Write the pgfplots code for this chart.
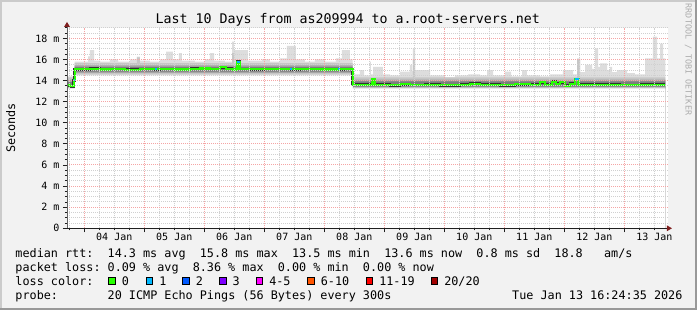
\documentclass[border=0pt]{standalone}
\usepackage{fontspec}
\setmainfont{DejaVu Sans Mono}
\usepackage{pgfplots}
\usepackage{pgfplotstable}
\pgfplotsset{compat=1.18}
\usetikzlibrary{arrows.meta}
\definecolor{bgc}{HTML}{F2F2F2}
\definecolor{shadeA}{HTML}{CBCBCB}
\definecolor{shadeB}{HTML}{999999}
\definecolor{mgrid}{HTML}{F5A5A5}
\definecolor{ngrid}{HTML}{D0D0D0}
\definecolor{arrowc}{HTML}{7F1F1F}
\definecolor{axisc}{HTML}{1F1F1F}
\definecolor{smA}{HTML}{DDDDDD}
\definecolor{smB}{HTML}{C6C6C6}
\definecolor{smC}{HTML}{A6A6A6}
\definecolor{smD}{HTML}{7C7C7C}
\definecolor{medc}{HTML}{333333}
\definecolor{l0}{HTML}{26FF00}
\definecolor{l1}{HTML}{00B8FF}
\definecolor{l2}{HTML}{0059FF}
\definecolor{l3}{HTML}{7E00FF}
\definecolor{l4}{HTML}{FF00FF}
\definecolor{l6}{HTML}{FF5500}
\definecolor{l11}{HTML}{FF0000}
\definecolor{l20}{HTML}{A10000}
\newcommand\fs[1]{\fontsize{#1}{#1}\selectfont}
\frenchspacing

% lightest smoke, upper envelope (days since 04 Jan 00:00, ms)
\pgfplotstableread{
d v
-0.280 14.4
-0.160 15.8
0.062 16.3
0.095 16.9
0.162 15.9
0.262 15.8
0.428 16.0
0.562 15.8
0.762 16.0
0.878 16.27
0.928 15.9
1.095 15.8
1.262 16.0
1.362 16.75
1.478 16.0
1.578 16.6
1.628 15.9
1.845 15.8
2.012 16.0
2.095 16.6
2.162 15.9
2.345 15.8
2.462 17.7
2.495 16.9
2.728 15.9
2.962 16.0
3.095 15.8
3.262 16.1
3.378 17.3
3.528 16.0
3.678 15.8
3.845 16.0
4.012 15.8
4.195 16.1
4.295 16.9
4.428 16.0
4.473 14.6
4.595 15.0
4.662 14.5
4.762 15.8
4.778 14.6
4.812 15.3
4.978 14.6
5.095 14.5
5.262 14.85
5.428 15.5
5.462 14.9
5.478 17.06
5.512 15.0
5.762 14.5
6.012 14.3
6.178 14.5
6.395 14.6
6.595 14.5
6.712 15.0
6.812 14.5
7.012 14.85
7.112 14.4
7.295 15.0
7.378 14.5
7.595 14.4
7.762 14.6
7.978 15.0
8.145 14.6
8.212 16.1
8.262 14.8
8.345 15.5
8.462 15.1
8.512 17.06
8.562 15.3
8.595 15.64
8.712 15.0
8.762 15.3
8.795 14.8
8.878 15.0
9.045 14.7
9.178 14.6
9.345 16.1
9.478 18.16
9.545 16.1
9.595 17.5
9.645 16.1
9.683 16.1
}\tabAhi

% median rtt
\pgfplotstableread{
d v
-0.280 13.55
-0.238 13.45
-0.177 14.05
-0.160 15.07
0.095 15.12
0.262 15.05
0.428 15.10
0.678 15.03
0.928 15.10
1.178 15.07
1.262 15.10
1.512 15.05
1.762 15.12
1.928 15.15
2.095 15.10
2.262 15.28
2.362 15.12
2.462 15.05
2.545 15.80
2.587 15.10
2.762 15.07
3.012 15.10
3.428 15.07
3.595 15.10
3.928 15.05
4.228 15.07
4.345 15.10
4.473 13.60
4.795 14.10
4.837 13.62
5.095 13.55
5.262 13.65
5.428 13.58
5.678 13.62
5.928 13.55
6.262 13.60
6.428 13.70
6.595 13.60
6.928 13.55
7.178 13.65
7.428 13.60
7.595 13.85
7.678 13.60
7.795 13.90
7.862 13.70
7.928 13.85
8.012 13.50
8.095 13.70
8.178 14.15
8.237 13.60
8.595 13.62
8.928 13.58
9.262 13.62
9.683 13.62
}\tabMed

\begin{document}
\begin{tikzpicture}
\useasboundingbox (0,0) rectangle (697bp,310bp);
\fill[bgc] (0,0) rectangle (697bp,310bp);
\fill[shadeA] (0,0) rectangle (2bp,310bp);
\fill[shadeA] (0,308bp) rectangle (697bp,310bp);
\fill[shadeB] (695bp,0) rectangle (697bp,310bp);
\fill[shadeB] (0,0) rectangle (697bp,2bp);
\begin{axis}[
  at={(67bp,81.7bp)}, anchor=south west, scale only axis,
  width=601bp, height=200.45bp,
  xmin=-0.288, xmax=9.728, ymin=0, ymax=19,
  axis background/.style={fill=white},
  axis on top,
  axis x line*=bottom, axis y line*=left,
  x axis line style={draw=axisc, line width=1.2bp, shorten >=-4bp, -{Triangle[color=arrowc,length=5bp,width=5.5bp]}},
  y axis line style={draw=axisc!70, line width=1bp, shorten >=-6bp, -{Triangle[color=arrowc,length=5bp,width=5.5bp]}},
  xtick={0,1,...,9}, xticklabels={,,,,,,,,,},
  minor xtick={-0.25,0.25,0.5,0.75,1.25,1.5,1.75,2.25,2.5,2.75,3.25,3.5,3.75,4.25,4.5,4.75,5.25,5.5,5.75,6.25,6.5,6.75,7.25,7.5,7.75,8.25,8.5,8.75,9.25,9.5},
  extra x ticks={0.5,1.5,2.5,3.5,4.5,5.5,6.5,7.5,8.5,9.5},
  extra x tick labels={04 Jan,05 Jan,06 Jan,07 Jan,08 Jan,09 Jan,10 Jan,11 Jan,12 Jan,13 Jan},
  extra x tick style={grid=none, major tick length=0pt, xticklabel style={anchor=base, inner sep=0pt, yshift=-12.4bp}},
  ytick={0,2,...,18},
  yticklabels={0,2 m,4 m,6 m,8 m,10 m,12 m,14 m,16 m,18 m},
  minor ytick={0.5,1,1.5,2.5,3,3.5,4.5,5,5.5,6.5,7,7.5,8.5,9,9.5,10.5,11,11.5,12.5,13,13.5,14.5,15,15.5,16.5,17,17.5,18.5,19},
  yticklabel style={anchor=east, inner sep=0pt, xshift=-3.4bp},
  grid=both,
  major grid style={draw=mgrid, line width=1bp, dash pattern=on 1bp off 1bp},
  minor grid style={draw=ngrid, line width=1bp, dash pattern=on 1bp off 1bp},
  tick align=outside, major tick length=4bp, minor tick length=2bp,
  every tick/.style={draw=axisc, line width=0.8bp},
  ticklabel style={font=\fs{10bp}},
]
% smoke: stacked upper envelopes, then lower envelopes overdrawn
\addplot[const plot, fill=smA, draw=none, forget plot] table {\tabAhi} \closedcycle;
\addplot[const plot, fill=smB, draw=none, forget plot] coordinates {(-0.280,14.3) (-0.160,15.65) (0.878,16.2) (0.928,15.65) (2.462,16.6) (2.495,15.65) (4.473,14.3) (5.478,16.0) (5.512,14.3) (8.212,16.0) (8.262,14.3) (9.683,14.3)} \closedcycle;
\addplot[const plot, fill=smC, draw=none, forget plot] coordinates {(-0.280,14.1) (-0.160,15.45) (4.473,14.1) (9.683,14.1)} \closedcycle;
\addplot[const plot, fill=smD, draw=none, forget plot] coordinates {(-0.280,13.85) (-0.160,15.3) (4.473,13.92) (9.683,13.92)} \closedcycle;
\addplot[const plot, fill=smC, draw=none, forget plot] coordinates {(-0.280,13.42) (-0.160,14.85) (4.473,13.42) (9.683,13.42)} \closedcycle;
\addplot[const plot, fill=smB, draw=none, forget plot] coordinates {(-0.280,13.36) (-0.160,14.72) (4.473,13.36) (9.683,13.36)} \closedcycle;
\addplot[const plot, fill=smA, draw=none, forget plot] coordinates {(-0.280,13.3) (-0.160,14.6) (4.473,13.3) (9.683,13.3)} \closedcycle;
\addplot[const plot, fill=white, draw=none, forget plot] coordinates {(-0.280,13.25) (-0.160,14.5) (4.473,13.25) (9.683,13.25)} \closedcycle;
% median
\addplot[const plot, draw=medc, line width=2.9bp, forget plot] table {\tabMed};
\addplot[const plot, draw=l0, line width=2.1bp, forget plot] table {\tabMed};
\addplot[draw=l1, line width=2.1bp, forget plot] coordinates {(-0.177,14.05) (-0.160,14.05)};
\addplot[draw=l1, line width=2.1bp, forget plot] coordinates {(1.178,15.07) (1.212,15.07)};
\addplot[draw=l1, line width=2.1bp, forget plot] coordinates {(2.545,15.8) (2.587,15.8)};
\addplot[draw=l1, line width=2.1bp, forget plot] coordinates {(3.428,15.07) (3.462,15.07)};
\addplot[draw=l1, line width=2.1bp, forget plot] coordinates {(4.228,15.07) (4.262,15.07)};
\addplot[draw=l1, line width=2.1bp, forget plot] coordinates {(8.178,14.15) (8.237,14.15)};
\end{axis}
% title, axis label, watermark
\node[anchor=base west, inner sep=0pt, font=\fs{13.3bp}] at (155.3bp,286bp) {Last 10 Days from as209994 to a.root-servers.net};
\node[rotate=90, anchor=base, inner sep=0pt, font=\fs{11.78bp}] at (15bp,182bp) {Seconds};
\node[rotate=-90, anchor=center, inner sep=0pt, font=\fs{8.4bp}, text=black!32] at (688.3bp,250.5bp) {RRDTOOL / TOBI OETIKER};
% legend
\node[anchor=base west, inner sep=0pt, font=\fs{11.78bp}] at (15.3bp,52bp) {median rtt:~~14.3 ms avg~~15.8 ms max~~13.5 ms min~~13.6 ms now~~0.8 ms sd~~18.8~~~am/s};
\node[anchor=base west, inner sep=0pt, font=\fs{11.78bp}] at (15.3bp,38.2bp) {packet loss: 0.09 \% avg~~8.36 \% max~~0.00 \% min~~0.00 \% now};
\node[anchor=base west, inner sep=0pt, font=\fs{11.78bp}] at (15.3bp,24.4bp) {loss color:};
\foreach \bx/\bc/\bl in {108.3/l0/{0}, 145.7/l1/{1}, 182.3/l2/{2}, 219/l3/{3}, 255.7/l4/{4-5}, 307.3/l6/{6-10}, 365.7/l11/{11-19}, 430.7/l20/{20{/}20}}{
  \filldraw[fill=\bc, draw=black, line width=1bp] (\bx bp+0.5bp,25.2bp) rectangle (\bx bp+7.2bp,32.2bp);
  \node[anchor=base west, inner sep=0pt, font=\fs{11.78bp}] at (\bx bp+13.4bp,24.4bp) {\bl};
}
\node[anchor=base west, inner sep=0pt, font=\fs{11.78bp}] at (15.3bp,10.6bp) {probe:};
\node[anchor=base west, inner sep=0pt, font=\fs{11.78bp}] at (107.5bp,10.6bp) {20 ICMP Echo Pings (56 Bytes) every 300s};
\node[anchor=base west, inner sep=0pt, font=\fs{11.78bp}] at (512bp,10.6bp) {Tue Jan 13 16:24:35 2026};
\end{tikzpicture}
\end{document}
